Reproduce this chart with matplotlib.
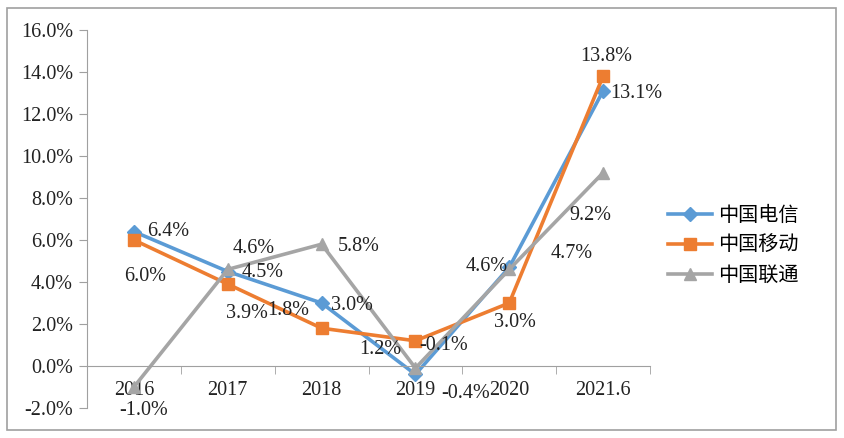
import matplotlib.pyplot as plt
from matplotlib.patches import Rectangle

years = ["2016", "2017", "2018", "2019", "2020", "2021.6"]
telecom = [6.4, 4.5, 3.0, -0.4, 4.7, 13.1]
mobile = [6.0, 3.9, 1.8, 1.2, 3.0, 13.8]
unicom = [-1.0, 4.6, 5.8, -0.1, 4.6, 9.2]
names = ["中国电信", "中国移动", "中国联通"]

# label offsets in points (dx, dy) for each point
off_telecom = [(25, 0), (25, -1), (22, -2), (36, -14), (45, 10), (24, -2)]
off_mobile = [(8, -26), (14, -21), (-24, 13), (-25, -6), (4, -14), (2, 14)]
off_unicom = [(7, -17), (19, 15), (27, -2), (20, 16), (-16, 2), (-9, -31)]

plt.rcParams['font.family'] = ['Liberation Serif', 'Noto Sans CJK SC']
fs = 14.5

fig = plt.figure(figsize=(8.44, 4.38), dpi=100)
fig.patches.append(Rectangle((7/844, 8/438), 829/844, 422/438, transform=fig.transFigure,
                             fill=False, edgecolor='#a0a0a0', linewidth=1.2))
ax = fig.add_axes([87/844, 30/438, 563/844, 378/438])

x = list(range(len(years)))
series = [
    (telecom, '#5B9BD5', 'D', 7, off_telecom),
    (mobile, '#ED7D31', 's', 9, off_mobile),
    (unicom, '#A5A5A5', '^', 9, off_unicom),
]
for (vals, color, marker, ms, offs), name in zip(series, names):
    ax.plot(x, vals, color=color, marker=marker, markersize=ms, linewidth=2.6, label=name)
    for xi, v, (dx, dy) in zip(x, vals, offs):
        ax.annotate(f"{v:.1f}%", (xi, v), xytext=(dx, dy), textcoords='offset points',
                    ha='center', va='center', fontsize=fs, color='#222222')

ax.spines['top'].set_visible(False)
ax.spines['right'].set_visible(False)
ax.spines['bottom'].set_position(('data', 0))
ax.spines['bottom'].set_color('#a0a0a0')
ax.spines['left'].set_color('#a0a0a0')

ax.set_xlim(-0.5, 5.5)
ax.set_ylim(-2, 16)
ax.set_yticks(range(-2, 17, 2))
ax.set_yticklabels([f"{v:.1f}%" for v in range(-2, 17, 2)])
ax.set_xticks(x)
ax.set_xticklabels(years)
ax.set_xticks([i - 0.5 for i in range(7)], minor=True)
ax.tick_params(axis='x', which='major', length=0, pad=11, labelsize=fs, labelcolor='#222222')
ax.tick_params(axis='x', which='minor', length=6, color='#a0a0a0', direction='out')
ax.tick_params(axis='y', length=6, color='#a0a0a0', pad=4, labelsize=fs, labelcolor='#222222')

leg = ax.legend(loc='center left', bbox_to_anchor=(1.0, 0.43), frameon=False,
                prop={'family': 'Noto Sans CJK SC', 'size': fs}, handlelength=2.2,
                labelspacing=0.45, handletextpad=0.3)

fig.savefig("out.png", dpi=100)
